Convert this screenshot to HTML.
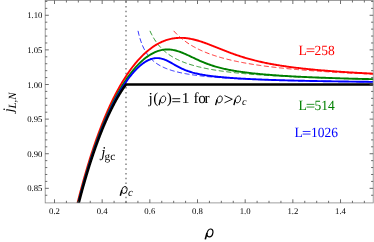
<!DOCTYPE html>
<html><head><meta charset="utf-8"><style>
html,body{margin:0;padding:0;background:#fff;}
svg{display:block;will-change:transform;font-family:"Liberation Serif",serif;text-rendering:geometricPrecision;}
</style></head><body>
<svg width="374" height="242" viewBox="0 0 374 242">
<rect width="374" height="242" fill="#fff"/>
<defs><clipPath id="c"><rect x="45.2" y="0.4" width="328.0" height="202.5"/></clipPath></defs>
<g clip-path="url(#c)" fill="none" stroke-linecap="butt" stroke-linejoin="round">
<path d="M126.0,202.9V0.4" stroke="#707070" stroke-width="1.3" stroke-dasharray="1.5,3.27" stroke-dashoffset="0.2"/>
<path d="M173.69,30.85L174.64,31.91L175.59,32.92L176.55,33.89L177.50,34.83L178.45,35.73L179.41,36.60L180.36,37.44L181.31,38.25L182.27,39.04L183.22,39.79L184.17,40.53L185.13,41.24L186.08,41.92L187.03,42.59L187.99,43.23L188.94,43.86L189.89,44.46L190.85,45.05L191.80,45.62L192.75,46.18L193.71,46.72L194.66,47.24L195.62,47.75L196.57,48.25L197.52,48.73L198.48,49.20L199.43,49.66L200.38,50.11L201.34,50.54L202.29,50.97L203.24,51.38L204.20,51.79L205.15,52.18L206.10,52.56L207.06,52.94L208.01,53.31L208.96,53.67L209.92,54.02L210.87,54.36L211.82,54.69L212.78,55.02L213.73,55.34L214.68,55.65L215.64,55.96L216.59,56.26L217.54,56.56L218.50,56.84L219.45,57.13L220.40,57.40L221.36,57.67L222.31,57.94L223.26,58.20L224.22,58.46L225.17,58.71L226.12,58.95L227.08,59.19L228.03,59.43L228.98,59.66L229.94,59.89L230.89,60.11L231.84,60.33L232.80,60.55L233.75,60.76L234.70,60.97L235.66,61.17L236.61,61.37L237.56,61.57L238.52,61.77L239.47,61.96L240.42,62.14L241.38,62.33L242.33,62.51L243.29,62.69L244.24,62.87L245.19,63.04L246.15,63.21L247.10,63.38L248.05,63.54L249.01,63.70L249.96,63.86L250.91,64.02L251.87,64.18L252.82,64.33L253.77,64.48L254.73,64.63L255.68,64.77L256.63,64.92L257.59,65.06L258.54,65.20L259.49,65.34L260.45,65.47L261.40,65.61L262.35,65.74L263.31,65.87L264.26,66.00L265.21,66.13L266.17,66.25L267.12,66.37L268.07,66.50L269.03,66.62L269.98,66.73L270.93,66.85L271.89,66.97L272.84,67.08L273.79,67.19L274.75,67.30L275.70,67.41L276.65,67.52L277.61,67.63L278.56,67.73L279.51,67.84L280.47,67.94L281.42,68.04L282.37,68.14L283.33,68.24L284.28,68.34L285.23,68.44L286.19,68.53L287.14,68.63L288.09,68.72L289.05,68.81L290.00,68.90L290.96,68.99L291.91,69.08L292.86,69.17L293.82,69.26L294.77,69.34L295.72,69.43L296.68,69.51L297.63,69.60L298.58,69.68L299.54,69.76L300.49,69.84L301.44,69.92L302.40,70.00L303.35,70.08L304.30,70.15L305.26,70.23L306.21,70.31L307.16,70.38L308.12,70.45L309.07,70.53L310.02,70.60L310.98,70.67L311.93,70.74L312.88,70.81L313.84,70.88L314.79,70.95L315.74,71.02L316.70,71.09L317.65,71.15L318.60,71.22L319.56,71.28L320.51,71.35L321.46,71.41L322.42,71.48L323.37,71.54L324.32,71.60L325.28,71.66L326.23,71.72L327.18,71.79L328.14,71.85L329.09,71.90L330.04,71.96L331.00,72.02L331.95,72.08L332.90,72.14L333.86,72.19L334.81,72.25L335.76,72.31L336.72,72.36L337.67,72.42L338.63,72.47L339.58,72.52L340.53,72.58L341.49,72.63L342.44,72.68L343.39,72.73L344.35,72.78L345.30,72.84L346.25,72.89L347.21,72.94L348.16,72.99L349.11,73.04L350.07,73.08L351.02,73.13L351.97,73.18L352.93,73.23L353.88,73.27L354.83,73.32L355.79,73.37L356.74,73.41L357.69,73.46L358.65,73.50L359.60,73.55L360.55,73.59L361.51,73.64L362.46,73.68L363.41,73.73L364.37,73.77L365.32,73.81L366.27,73.85L367.23,73.90L368.18,73.94L369.13,73.98L370.09,74.02L371.04,74.06L371.99,74.10L372.95,74.14L373.90,74.18L374.85,74.22L375.81,74.26L376.76,74.30L377.71,74.34" stroke="#ff0000" stroke-width="0.8" stroke-dasharray="5,2.6"/>
<path d="M149.94,30.85L150.89,32.91L151.85,34.81L152.80,36.58L153.75,38.23L154.71,39.76L155.66,41.20L156.61,42.55L157.57,43.82L158.52,45.01L159.47,46.14L160.43,47.20L161.38,48.20L162.33,49.16L163.29,50.06L164.24,50.92L165.19,51.74L166.15,52.51L167.10,53.26L168.05,53.97L169.01,54.64L169.96,55.29L170.91,55.91L171.87,56.50L172.82,57.07L173.77,57.62L174.73,58.15L175.68,58.65L176.63,59.14L177.59,59.61L178.54,60.06L179.49,60.50L180.45,60.92L181.40,61.32L182.35,61.71L183.31,62.09L184.26,62.46L185.21,62.82L186.17,63.16L187.12,63.49L188.07,63.81L189.03,64.13L189.98,64.43L190.93,64.73L191.89,65.01L192.84,65.29L193.80,65.56L194.75,65.82L195.70,66.08L196.66,66.33L197.61,66.57L198.56,66.80L199.52,67.03L200.47,67.26L201.42,67.48L202.38,67.69L203.33,67.90L204.28,68.10L205.24,68.30L206.19,68.49L207.14,68.68L208.10,68.86L209.05,69.04L210.00,69.21L210.96,69.39L211.91,69.55L212.86,69.72L213.82,69.88L214.77,70.04L215.72,70.19L216.68,70.34L217.63,70.49L218.58,70.63L219.54,70.77L220.49,70.91L221.44,71.05L222.40,71.18L223.35,71.31L224.30,71.44L225.26,71.56L226.21,71.69L227.16,71.81L228.12,71.93L229.07,72.04L230.02,72.16L230.98,72.27L231.93,72.38L232.88,72.49L233.84,72.59L234.79,72.70L235.74,72.80L236.70,72.90L237.65,73.00L238.60,73.10L239.56,73.19L240.51,73.29L241.47,73.38L242.42,73.47L243.37,73.56L244.33,73.65L245.28,73.74L246.23,73.82L247.19,73.90L248.14,73.99L249.09,74.07L250.05,74.15L251.00,74.23L251.95,74.31L252.91,74.38L253.86,74.46L254.81,74.53L255.77,74.61L256.72,74.68L257.67,74.75L258.63,74.82L259.58,74.89L260.53,74.96L261.49,75.02L262.44,75.09L263.39,75.15L264.35,75.22L265.30,75.28L266.25,75.35L267.21,75.41L268.16,75.47L269.11,75.53L270.07,75.59L271.02,75.65L271.97,75.70L272.93,75.76L273.88,75.82L274.83,75.87L275.79,75.93L276.74,75.98L277.69,76.04L278.65,76.09L279.60,76.14L280.55,76.19L281.51,76.24L282.46,76.29L283.41,76.34L284.37,76.39L285.32,76.44L286.27,76.49L287.23,76.54L288.18,76.58L289.14,76.63L290.09,76.68L291.04,76.72L292.00,76.76L292.95,76.81L293.90,76.85L294.86,76.90L295.81,76.94L296.76,76.98L297.72,77.02L298.67,77.06L299.62,77.10L300.58,77.15L301.53,77.19L302.48,77.22L303.44,77.26L304.39,77.30L305.34,77.34L306.30,77.38L307.25,77.42L308.20,77.45L309.16,77.49L310.11,77.53L311.06,77.56L312.02,77.60L312.97,77.63L313.92,77.67L314.88,77.70L315.83,77.74L316.78,77.77L317.74,77.80L318.69,77.84L319.64,77.87L320.60,77.90L321.55,77.93L322.50,77.97L323.46,78.00L324.41,78.03L325.36,78.06L326.32,78.09L327.27,78.12L328.22,78.15L329.18,78.18L330.13,78.21L331.08,78.24L332.04,78.27L332.99,78.30L333.94,78.33L334.90,78.35L335.85,78.38L336.81,78.41L337.76,78.44L338.71,78.46L339.67,78.49L340.62,78.52L341.57,78.54L342.53,78.57L343.48,78.60L344.43,78.62L345.39,78.65L346.34,78.67L347.29,78.70L348.25,78.72L349.20,78.75L350.15,78.77L351.11,78.80L352.06,78.82L353.01,78.84L353.97,78.87L354.92,78.89L355.87,78.91L356.83,78.94L357.78,78.96L358.73,78.98L359.69,79.01L360.64,79.03L361.59,79.05L362.55,79.07L363.50,79.09L364.45,79.12L365.41,79.14L366.36,79.16L367.31,79.18L368.27,79.20L369.22,79.22L370.17,79.24L371.13,79.26L372.08,79.28L373.03,79.30L373.99,79.32L374.94,79.34L375.89,79.36L376.85,79.38L377.80,79.40" stroke="#008000" stroke-width="0.8" stroke-dasharray="5,2.6"/>
<path d="M138.00,30.85L138.95,34.81L139.90,38.22L140.86,41.19L141.81,43.80L142.76,46.12L143.72,48.18L144.67,50.04L145.62,51.71L146.58,53.23L147.53,54.62L148.48,55.88L149.44,57.05L150.39,58.12L151.34,59.11L152.30,60.03L153.25,60.89L154.20,61.69L155.16,62.44L156.11,63.13L157.06,63.79L158.02,64.41L158.97,64.99L159.92,65.54L160.88,66.05L161.83,66.55L162.78,67.01L163.74,67.45L164.69,67.87L165.64,68.27L166.60,68.65L167.55,69.02L168.50,69.37L169.46,69.70L170.41,70.01L171.36,70.32L172.32,70.61L173.27,70.89L174.22,71.16L175.18,71.42L176.13,71.67L177.08,71.91L178.04,72.14L178.99,72.36L179.94,72.58L180.90,72.78L181.85,72.98L182.80,73.18L183.76,73.36L184.71,73.54L185.67,73.72L186.62,73.89L187.57,74.05L188.53,74.21L189.48,74.37L190.43,74.52L191.39,74.66L192.34,74.80L193.29,74.94L194.25,75.07L195.20,75.20L196.15,75.33L197.11,75.45L198.06,75.57L199.01,75.69L199.97,75.80L200.92,75.91L201.87,76.02L202.83,76.13L203.78,76.23L204.73,76.33L205.69,76.43L206.64,76.52L207.59,76.62L208.55,76.71L209.50,76.80L210.45,76.88L211.41,76.97L212.36,77.05L213.31,77.13L214.27,77.21L215.22,77.29L216.17,77.37L217.13,77.44L218.08,77.51L219.03,77.59L219.99,77.66L220.94,77.72L221.89,77.79L222.85,77.86L223.80,77.92L224.75,77.99L225.71,78.05L226.66,78.11L227.61,78.17L228.57,78.23L229.52,78.29L230.47,78.34L231.43,78.40L232.38,78.45L233.34,78.51L234.29,78.56L235.24,78.61L236.20,78.66L237.15,78.71L238.10,78.76L239.06,78.81L240.01,78.86L240.96,78.90L241.92,78.95L242.87,79.00L243.82,79.04L244.78,79.08L245.73,79.13L246.68,79.17L247.64,79.21L248.59,79.25L249.54,79.29L250.50,79.33L251.45,79.37L252.40,79.41L253.36,79.45L254.31,79.49L255.26,79.52L256.22,79.56L257.17,79.60L258.12,79.63L259.08,79.67L260.03,79.70L260.98,79.73L261.94,79.77L262.89,79.80L263.84,79.83L264.80,79.87L265.75,79.90L266.70,79.93L267.66,79.96L268.61,79.99L269.56,80.02L270.52,80.05L271.47,80.08L272.42,80.11L273.38,80.14L274.33,80.16L275.28,80.19L276.24,80.22L277.19,80.25L278.14,80.27L279.10,80.30L280.05,80.32L281.01,80.35L281.96,80.38L282.91,80.40L283.87,80.43L284.82,80.45L285.77,80.47L286.73,80.50L287.68,80.52L288.63,80.54L289.59,80.57L290.54,80.59L291.49,80.61L292.45,80.64L293.40,80.66L294.35,80.68L295.31,80.70L296.26,80.72L297.21,80.74L298.17,80.76L299.12,80.78L300.07,80.80L301.03,80.82L301.98,80.84L302.93,80.86L303.89,80.88L304.84,80.90L305.79,80.92L306.75,80.94L307.70,80.96L308.65,80.98L309.61,81.00L310.56,81.01L311.51,81.03L312.47,81.05L313.42,81.07L314.37,81.09L315.33,81.10L316.28,81.12L317.23,81.14L318.19,81.15L319.14,81.17L320.09,81.19L321.05,81.20L322.00,81.22L322.95,81.23L323.91,81.25L324.86,81.27L325.81,81.28L326.77,81.30L327.72,81.31L328.68,81.33L329.63,81.34L330.58,81.36L331.54,81.37L332.49,81.38L333.44,81.40L334.40,81.41L335.35,81.43L336.30,81.44L337.26,81.46L338.21,81.47L339.16,81.48L340.12,81.50L341.07,81.51L342.02,81.52L342.98,81.54L343.93,81.55L344.88,81.56L345.84,81.57L346.79,81.59L347.74,81.60L348.70,81.61L349.65,81.62L350.60,81.64L351.56,81.65L352.51,81.66L353.46,81.67L354.42,81.68L355.37,81.70L356.32,81.71L357.28,81.72L358.23,81.73L359.18,81.74L360.14,81.75L361.09,81.76L362.04,81.77L363.00,81.79L363.95,81.80L364.90,81.81L365.86,81.82L366.81,81.83L367.76,81.84L368.72,81.85L369.67,81.86L370.62,81.87L371.58,81.88L372.53,81.89L373.48,81.90L374.44,81.91L375.39,81.92L376.35,81.93L377.30,81.94L378.25,81.95" stroke="#0000ff" stroke-width="0.8" stroke-dasharray="5,2.6"/>
<path d="M73.57,219.29L74.52,215.24L75.47,211.26L76.43,207.35L77.38,203.50L78.34,199.72L79.29,196.00L80.24,192.35L81.20,188.76L82.15,185.23L83.10,181.77L84.06,178.36L85.01,175.01L85.96,171.72L86.92,168.49L87.87,165.31L88.82,162.19L89.78,159.12L90.73,156.11L91.68,153.15L92.64,150.24L93.59,147.38L94.54,144.58L95.50,141.82L96.45,139.11L97.40,136.45L98.36,133.84L99.31,131.28L100.26,128.76L101.22,126.29L102.17,123.86L103.12,121.48L104.08,119.14L105.03,116.84L105.98,114.59L106.94,112.38L107.89,110.21L108.84,108.08L109.80,105.99L110.75,103.94L111.70,101.94L112.66,99.97L113.61,98.03L114.56,96.14L115.52,94.28L116.47,92.46L117.42,90.68L118.38,88.94L119.33,87.22L120.28,85.55L121.24,83.91L122.19,82.30L123.14,80.73L124.10,79.19L125.05,77.68L126.01,76.21L126.96,74.77L127.91,73.36L128.87,71.98L129.82,70.64L130.77,69.32L131.73,68.04L132.68,66.78L133.63,65.56L134.59,64.37L135.54,63.20L136.49,62.07L137.45,60.97L138.40,59.89L139.35,58.84L140.31,57.82L141.26,56.83L142.21,55.87L143.17,54.93L144.12,54.02L145.07,53.14L146.03,52.28L146.98,51.46L147.93,50.65L148.89,49.88L149.84,49.13L150.79,48.40L151.75,47.71L152.70,47.03L153.65,46.39L154.61,45.77L155.56,45.17L156.51,44.60L157.47,44.05L158.42,43.53L159.37,43.03L160.33,42.55L161.28,42.10L162.23,41.67L163.19,41.27L164.14,40.89L165.09,40.54L166.05,40.20L167.00,39.89L167.95,39.60L168.91,39.34L169.86,39.09L170.81,38.87L171.77,38.67L172.72,38.50L173.68,38.34L174.63,38.21L175.58,38.09L176.54,38.00L177.49,37.93L178.44,37.87L179.40,37.84L180.35,37.83L181.30,37.83L182.26,37.86L183.21,37.90L184.16,37.96L185.12,38.04L186.07,38.14L187.02,38.25L187.98,38.38L188.93,38.53L189.88,38.69L190.84,38.87L191.79,39.06L192.74,39.26L193.70,39.48L194.65,39.72L195.60,39.96L196.56,40.22L197.51,40.49L198.46,40.77L199.42,41.06L200.37,41.36L201.32,41.67L202.28,41.99L203.23,42.31L204.18,42.65L205.14,42.99L206.09,43.33L207.04,43.69L208.00,44.05L208.95,44.41L209.90,44.78L210.86,45.15L211.81,45.52L212.76,45.90L213.72,46.28L214.67,46.66L215.62,47.04L216.58,47.43L217.53,47.81L218.48,48.20L219.44,48.58L220.39,48.96L221.35,49.34L222.30,49.72L223.25,50.10L224.21,50.48L225.16,50.85L226.11,51.22L227.07,51.59L228.02,51.95L228.97,52.31L229.93,52.67L230.88,53.02L231.83,53.37L232.79,53.72L233.74,54.06L234.69,54.40L235.65,54.73L236.60,55.06L237.55,55.38L238.51,55.70L239.46,56.02L240.41,56.33L241.37,56.63L242.32,56.94L243.27,57.23L244.23,57.52L245.18,57.81L246.13,58.09L247.09,58.37L248.04,58.64L248.99,58.91L249.95,59.17L250.90,59.43L251.85,59.69L252.81,59.94L253.76,60.18L254.71,60.43L255.67,60.66L256.62,60.90L257.57,61.13L258.53,61.35L259.48,61.57L260.43,61.79L261.39,62.00L262.34,62.21L263.29,62.42L264.25,62.62L265.20,62.82L266.15,63.02L267.11,63.21L268.06,63.40L269.02,63.58L269.97,63.77L270.92,63.95L271.88,64.12L272.83,64.29L273.78,64.46L274.74,64.63L275.69,64.80L276.64,64.96L277.60,65.12L278.55,65.27L279.50,65.43L280.46,65.58L281.41,65.73L282.36,65.87L283.32,66.02L284.27,66.16L285.22,66.30L286.18,66.44L287.13,66.57L288.08,66.71L289.04,66.84L289.99,66.97L290.94,67.09L291.90,67.22L292.85,67.34L293.80,67.46L294.76,67.58L295.71,67.70L296.66,67.82L297.62,67.93L298.57,68.04L299.52,68.16L300.48,68.26L301.43,68.37L302.38,68.48L303.34,68.58L304.29,68.69L305.24,68.79L306.20,68.89L307.15,68.99L308.10,69.09L309.06,69.18L310.01,69.28L310.96,69.37L311.92,69.47L312.87,69.56L313.82,69.65L314.78,69.74L315.73,69.83L316.69,69.91L317.64,70.00L318.59,70.09L319.55,70.17L320.50,70.25L321.45,70.33L322.41,70.41L323.36,70.49L324.31,70.57L325.27,70.65L326.22,70.73L327.17,70.80L328.13,70.88L329.08,70.95L330.03,71.03L330.99,71.10L331.94,71.17L332.89,71.24L333.85,71.31L334.80,71.38L335.75,71.45L336.71,71.52L337.66,71.59L338.61,71.65L339.57,71.72L340.52,71.78L341.47,71.85L342.43,71.91L343.38,71.97L344.33,72.04L345.29,72.10L346.24,72.16L347.19,72.22L348.15,72.28L349.10,72.34L350.05,72.40L351.01,72.45L351.96,72.51L352.91,72.57L353.87,72.62L354.82,72.68L355.77,72.74L356.73,72.79L357.68,72.84L358.63,72.90L359.59,72.95L360.54,73.00L361.49,73.05L362.45,73.11L363.40,73.16L364.36,73.21L365.31,73.26L366.26,73.31L367.22,73.36L368.17,73.41L369.12,73.45L370.08,73.50L371.03,73.55L371.98,73.60L372.94,73.64L373.89,73.69L374.84,73.73L375.80,73.78" stroke="#ff0000" stroke-width="1.9"/>
<path d="M73.57,221.58L74.52,217.55L75.47,213.59L76.43,209.69L77.38,205.86L78.34,202.10L79.29,198.41L80.24,194.77L81.20,191.20L82.15,187.69L83.10,184.24L84.06,180.85L85.01,177.52L85.96,174.25L86.92,171.04L87.87,167.88L88.82,164.78L89.78,161.73L90.73,158.73L91.68,155.79L92.64,152.90L93.59,150.07L94.54,147.28L95.50,144.55L96.45,141.86L97.40,139.22L98.36,136.63L99.31,134.09L100.26,131.59L101.22,129.14L102.17,126.74L103.12,124.38L104.08,122.06L105.03,119.79L105.98,117.56L106.94,115.38L107.89,113.24L108.84,111.13L109.80,109.07L110.75,107.05L111.70,105.07L112.66,103.13L113.61,101.23L114.56,99.37L115.52,97.55L116.47,95.76L117.42,94.01L118.38,92.30L119.33,90.63L120.28,88.99L121.24,87.39L122.19,85.82L123.14,84.29L124.10,82.79L125.05,81.33L126.01,79.91L126.96,78.51L127.91,77.16L128.87,75.83L129.82,74.54L130.77,73.28L131.73,72.06L132.68,70.87L133.63,69.71L134.59,68.58L135.54,67.49L136.49,66.43L137.45,65.40L138.40,64.41L139.35,63.44L140.31,62.51L141.26,61.61L142.21,60.74L143.17,59.90L144.12,59.10L145.07,58.33L146.03,57.59L146.98,56.88L147.93,56.20L148.89,55.56L149.84,54.94L150.79,54.36L151.75,53.81L152.70,53.30L153.65,52.81L154.61,52.36L155.56,51.94L156.51,51.56L157.47,51.20L158.42,50.88L159.37,50.60L160.33,50.34L161.28,50.12L162.23,49.93L163.19,49.77L164.14,49.64L165.09,49.55L166.05,49.49L167.00,49.46L167.95,49.46L168.91,49.49L169.86,49.55L170.81,49.65L171.77,49.77L172.72,49.92L173.68,50.09L174.63,50.30L175.58,50.53L176.54,50.78L177.49,51.06L178.44,51.35L179.40,51.67L180.35,52.01L181.30,52.37L182.26,52.74L183.21,53.13L184.16,53.53L185.12,53.94L186.07,54.37L187.02,54.80L187.98,55.24L188.93,55.69L189.88,56.14L190.84,56.59L191.79,57.04L192.74,57.50L193.70,57.95L194.65,58.40L195.60,58.85L196.56,59.29L197.51,59.73L198.46,60.17L199.42,60.60L200.37,61.02L201.32,61.43L202.28,61.84L203.23,62.23L204.18,62.62L205.14,63.00L206.09,63.38L207.04,63.74L208.00,64.09L208.95,64.44L209.90,64.77L210.86,65.10L211.81,65.42L212.76,65.72L213.72,66.02L214.67,66.32L215.62,66.60L216.58,66.88L217.53,67.14L218.48,67.40L219.44,67.66L220.39,67.90L221.35,68.14L222.30,68.37L223.25,68.60L224.21,68.82L225.16,69.03L226.11,69.24L227.07,69.44L228.02,69.63L228.97,69.82L229.93,70.01L230.88,70.19L231.83,70.36L232.79,70.54L233.74,70.70L234.69,70.86L235.65,71.02L236.60,71.18L237.55,71.33L238.51,71.47L239.46,71.62L240.41,71.76L241.37,71.89L242.32,72.03L243.27,72.16L244.23,72.29L245.18,72.41L246.13,72.53L247.09,72.65L248.04,72.77L248.99,72.88L249.95,72.99L250.90,73.10L251.85,73.21L252.81,73.32L253.76,73.42L254.71,73.52L255.67,73.62L256.62,73.71L257.57,73.81L258.53,73.90L259.48,73.99L260.43,74.08L261.39,74.17L262.34,74.26L263.29,74.34L264.25,74.43L265.20,74.51L266.15,74.59L267.11,74.67L268.06,74.75L269.02,74.82L269.97,74.90L270.92,74.97L271.88,75.04L272.83,75.11L273.78,75.18L274.74,75.25L275.69,75.32L276.64,75.39L277.60,75.46L278.55,75.52L279.50,75.58L280.46,75.65L281.41,75.71L282.36,75.77L283.32,75.83L284.27,75.89L285.22,75.95L286.18,76.01L287.13,76.06L288.08,76.12L289.04,76.17L289.99,76.23L290.94,76.28L291.90,76.33L292.85,76.39L293.80,76.44L294.76,76.49L295.71,76.54L296.66,76.59L297.62,76.64L298.57,76.69L299.52,76.73L300.48,76.78L301.43,76.83L302.38,76.87L303.34,76.92L304.29,76.96L305.24,77.01L306.20,77.05L307.15,77.09L308.10,77.14L309.06,77.18L310.01,77.22L310.96,77.26L311.92,77.30L312.87,77.34L313.82,77.38L314.78,77.42L315.73,77.46L316.69,77.50L317.64,77.54L318.59,77.57L319.55,77.61L320.50,77.65L321.45,77.68L322.41,77.72L323.36,77.75L324.31,77.79L325.27,77.82L326.22,77.86L327.17,77.89L328.13,77.92L329.08,77.96L330.03,77.99L330.99,78.02L331.94,78.06L332.89,78.09L333.85,78.12L334.80,78.15L335.75,78.18L336.71,78.21L337.66,78.24L338.61,78.27L339.57,78.30L340.52,78.33L341.47,78.36L342.43,78.39L343.38,78.42L344.33,78.45L345.29,78.47L346.24,78.50L347.19,78.53L348.15,78.56L349.10,78.58L350.05,78.61L351.01,78.64L351.96,78.66L352.91,78.69L353.87,78.71L354.82,78.74L355.77,78.76L356.73,78.79L357.68,78.81L358.63,78.84L359.59,78.86L360.54,78.89L361.49,78.91L362.45,78.94L363.40,78.96L364.36,78.98L365.31,79.01L366.26,79.03L367.22,79.05L368.17,79.07L369.12,79.10L370.08,79.12L371.03,79.14L371.98,79.16L372.94,79.18L373.89,79.20L374.84,79.23L375.80,79.25" stroke="#008000" stroke-width="1.9"/>
<path d="M73.57,222.74L74.52,218.72L75.47,214.76L76.43,210.88L77.38,207.06L78.34,203.31L79.29,199.62L80.24,196.00L81.20,192.43L82.15,188.93L83.10,185.50L84.06,182.12L85.01,178.80L85.96,175.54L86.92,172.33L87.87,169.18L88.82,166.09L89.78,163.05L90.73,160.07L91.68,157.14L92.64,154.26L93.59,151.44L94.54,148.66L95.50,145.94L96.45,143.26L97.40,140.64L98.36,138.06L99.31,135.53L100.26,133.04L101.22,130.61L102.17,128.22L103.12,125.87L104.08,123.57L105.03,121.31L105.98,119.10L106.94,116.93L107.89,114.81L108.84,112.72L109.80,110.68L110.75,108.68L111.70,106.71L112.66,104.79L113.61,102.91L114.56,101.07L115.52,99.27L116.47,97.51L117.42,95.78L118.38,94.10L119.33,92.45L120.28,90.84L121.24,89.27L122.19,87.73L123.14,86.23L124.10,84.77L125.05,83.35L126.01,81.96L126.96,80.61L127.91,79.29L128.87,78.01L129.82,76.77L130.77,75.57L131.73,74.40L132.68,73.26L133.63,72.17L134.59,71.11L135.54,70.09L136.49,69.10L137.45,68.16L138.40,67.25L139.35,66.38L140.31,65.55L141.26,64.76L142.21,64.00L143.17,63.29L144.12,62.63L145.07,62.00L146.03,61.42L146.98,60.88L147.93,60.38L148.89,59.93L149.84,59.53L150.79,59.18L151.75,58.87L152.70,58.61L153.65,58.41L154.61,58.25L155.56,58.14L156.51,58.09L157.47,58.09L158.42,58.14L159.37,58.24L160.33,58.39L161.28,58.58L162.23,58.83L163.19,59.12L164.14,59.45L165.09,59.82L166.05,60.23L167.00,60.67L167.95,61.13L168.91,61.62L169.86,62.13L170.81,62.66L171.77,63.19L172.72,63.73L173.68,64.28L174.63,64.82L175.58,65.36L176.54,65.89L177.49,66.41L178.44,66.92L179.40,67.41L180.35,67.89L181.30,68.35L182.26,68.79L183.21,69.22L184.16,69.63L185.12,70.02L186.07,70.40L187.02,70.75L187.98,71.09L188.93,71.42L189.88,71.73L190.84,72.02L191.79,72.31L192.74,72.58L193.70,72.83L194.65,73.08L195.60,73.31L196.56,73.53L197.51,73.75L198.46,73.95L199.42,74.15L200.37,74.34L201.32,74.52L202.28,74.69L203.23,74.86L204.18,75.02L205.14,75.17L206.09,75.32L207.04,75.47L208.00,75.60L208.95,75.74L209.90,75.87L210.86,75.99L211.81,76.11L212.76,76.23L213.72,76.34L214.67,76.46L215.62,76.56L216.58,76.67L217.53,76.77L218.48,76.86L219.44,76.96L220.39,77.05L221.35,77.14L222.30,77.23L223.25,77.32L224.21,77.40L225.16,77.48L226.11,77.56L227.07,77.64L228.02,77.71L228.97,77.78L229.93,77.86L230.88,77.93L231.83,78.00L232.79,78.06L233.74,78.13L234.69,78.19L235.65,78.26L236.60,78.32L237.55,78.38L238.51,78.44L239.46,78.49L240.41,78.55L241.37,78.61L242.32,78.66L243.27,78.71L244.23,78.77L245.18,78.82L246.13,78.87L247.09,78.92L248.04,78.96L248.99,79.01L249.95,79.06L250.90,79.10L251.85,79.15L252.81,79.19L253.76,79.24L254.71,79.28L255.67,79.32L256.62,79.36L257.57,79.40L258.53,79.44L259.48,79.48L260.43,79.52L261.39,79.56L262.34,79.60L263.29,79.64L264.25,79.67L265.20,79.71L266.15,79.74L267.11,79.78L268.06,79.81L269.02,79.84L269.97,79.88L270.92,79.91L271.88,79.94L272.83,79.97L273.78,80.01L274.74,80.04L275.69,80.07L276.64,80.10L277.60,80.13L278.55,80.16L279.50,80.18L280.46,80.21L281.41,80.24L282.36,80.27L283.32,80.30L284.27,80.32L285.22,80.35L286.18,80.37L287.13,80.40L288.08,80.43L289.04,80.45L289.99,80.48L290.94,80.50L291.90,80.52L292.85,80.55L293.80,80.57L294.76,80.60L295.71,80.62L296.66,80.64L297.62,80.66L298.57,80.69L299.52,80.71L300.48,80.73L301.43,80.75L302.38,80.77L303.34,80.79L304.29,80.81L305.24,80.84L306.20,80.86L307.15,80.88L308.10,80.90L309.06,80.91L310.01,80.93L310.96,80.95L311.92,80.97L312.87,80.99L313.82,81.01L314.78,81.03L315.73,81.05L316.69,81.06L317.64,81.08L318.59,81.10L319.55,81.12L320.50,81.13L321.45,81.15L322.41,81.17L323.36,81.18L324.31,81.20L325.27,81.22L326.22,81.23L327.17,81.25L328.13,81.27L329.08,81.28L330.03,81.30L330.99,81.31L331.94,81.33L332.89,81.34L333.85,81.36L334.80,81.37L335.75,81.39L336.71,81.40L337.66,81.42L338.61,81.43L339.57,81.44L340.52,81.46L341.47,81.47L342.43,81.49L343.38,81.50L344.33,81.51L345.29,81.53L346.24,81.54L347.19,81.55L348.15,81.57L349.10,81.58L350.05,81.59L351.01,81.60L351.96,81.62L352.91,81.63L353.87,81.64L354.82,81.65L355.77,81.67L356.73,81.68L357.68,81.69L358.63,81.70L359.59,81.71L360.54,81.72L361.49,81.74L362.45,81.75L363.40,81.76L364.36,81.77L365.31,81.78L366.26,81.79L367.22,81.80L368.17,81.81L369.12,81.83L370.08,81.84L371.03,81.85L371.98,81.86L372.94,81.87L373.89,81.88L374.84,81.89L375.80,81.90" stroke="#0000ff" stroke-width="1.9"/>
<path d="M66.50,255.90L66.64,255.21L66.79,254.51L66.93,253.82L67.08,253.13L67.22,252.43L67.37,251.74L67.52,251.04L67.66,250.35L67.81,249.66L67.96,248.96L68.11,248.27L68.25,247.57L68.40,246.88L68.55,246.19L68.70,245.49L68.85,244.80L69.00,244.11L69.15,243.41L69.30,242.72L69.46,242.02L69.61,241.33L69.76,240.64L69.91,239.94L70.07,239.25L70.22,238.55L70.37,237.86L70.53,237.17L70.68,236.47L70.84,235.78L70.99,235.08L71.15,234.39L71.31,233.70L71.46,233.00L71.62,232.31L71.78,231.61L71.94,230.92L72.10,230.23L72.26,229.53L72.42,228.84L72.58,228.14L72.74,227.45L72.90,226.76L73.06,226.06L73.22,225.37L73.39,224.67L73.55,223.98L73.71,223.29L73.88,222.59L74.04,221.90L74.21,221.21L74.37,220.51L74.54,219.82L74.71,219.12L74.87,218.43L75.04,217.74L75.21,217.04L75.38,216.35L75.55,215.65L75.72,214.96L75.89,214.27L76.06,213.57L76.23,212.88L76.40,212.18L76.57,211.49L76.75,210.80L76.92,210.10L77.09,209.41L77.27,208.71L77.44,208.02L77.62,207.33L77.80,206.63L77.97,205.94L78.15,205.24L78.33,204.55L78.51,203.86L78.69,203.16L78.87,202.47L79.05,201.77L79.23,201.08L79.41,200.39L79.59,199.69L79.77,199.00L79.96,198.31L80.14,197.61L80.33,196.92L80.51,196.22L80.70,195.53L80.88,194.84L81.07,194.14L81.26,193.45L81.45,192.75L81.64,192.06L81.83,191.37L82.02,190.67L82.21,189.98L82.40,189.28L82.59,188.59L82.78,187.90L82.98,187.20L83.17,186.51L83.37,185.81L83.56,185.12L83.76,184.43L83.96,183.73L84.16,183.04L84.36,182.34L84.56,181.65L84.76,180.96L84.96,180.26L85.16,179.57L85.36,178.88L85.56,178.18L85.77,177.49L85.97,176.79L86.18,176.10L86.39,175.41L86.59,174.71L86.80,174.02L87.01,173.32L87.22,172.63L87.43,171.94L87.64,171.24L87.86,170.55L88.07,169.85L88.28,169.16L88.50,168.47L88.71,167.77L88.93,167.08L89.15,166.38L89.37,165.69L89.58,165.00L89.81,164.30L90.03,163.61L90.25,162.91L90.47,162.22L90.70,161.53L90.92,160.83L91.15,160.14L91.37,159.44L91.60,158.75L91.83,158.06L92.06,157.36L92.29,156.67L92.52,155.98L92.76,155.28L92.99,154.59L93.23,153.89L93.46,153.20L93.70,152.51L93.94,151.81L94.18,151.12L94.42,150.42L94.66,149.73L94.90,149.04L95.15,148.34L95.39,147.65L95.64,146.95L95.88,146.26L96.13,145.57L96.38,144.87L96.63,144.18L96.89,143.48L97.14,142.79L97.40,142.10L97.65,141.40L97.91,140.71L98.17,140.01L98.43,139.32L98.69,138.63L98.95,137.93L99.22,137.24L99.48,136.55L99.75,135.85L100.02,135.16L100.29,134.46L100.56,133.77L100.83,133.08L101.11,132.38L101.38,131.69L101.66,130.99L101.94,130.30L102.22,129.61L102.50,128.91L102.79,128.22L103.07,127.52L103.36,126.83L103.65,126.14L103.94,125.44L104.23,124.75L104.53,124.05L104.83,123.36L105.12,122.67L105.42,121.97L105.73,121.28L106.03,120.58L106.34,119.89L106.64,119.20L106.95,118.50L107.27,117.81L107.58,117.11L107.90,116.42L108.21,115.73L108.54,115.03L108.86,114.34L109.18,113.65L109.51,112.95L109.84,112.26L110.17,111.56L110.51,110.87L110.85,110.18L111.19,109.48L111.53,108.79L111.88,108.09L112.22,107.40L112.58,106.71L112.93,106.01L113.29,105.32L113.65,104.62L114.01,103.93L114.38,103.24L114.75,102.54L115.12,101.85L115.50,101.15L115.88,100.46L116.26,99.77L116.65,99.07L117.04,98.38L117.43,97.68L117.83,96.99L118.24,96.30L118.65,95.60L119.06,94.91L119.48,94.22L119.90,93.52L120.33,92.83L120.76,92.13L121.20,91.44L121.65,90.75L122.10,90.05L122.56,89.36L123.02,88.66L123.49,87.97L123.97,87.28L124.46,86.58L124.97,85.89L125.48,85.19L126.00,84.50L375.2,84.5" stroke="#000" stroke-width="2.5" stroke-linejoin="miter"/>
</g>
<rect x="45.2" y="0.4" width="328.0" height="202.5" fill="none" stroke="#868686" stroke-width="0.8"/>
<path d="M54.50,202.9v-3.6M54.50,0.4v3.6M66.42,202.9v-2.1M66.42,0.4v2.1M78.34,202.9v-2.1M78.34,0.4v2.1M90.25,202.9v-2.1M90.25,0.4v2.1M102.17,202.9v-3.6M102.17,0.4v3.6M114.09,202.9v-2.1M114.09,0.4v2.1M126.00,202.9v-2.1M126.00,0.4v2.1M137.92,202.9v-2.1M137.92,0.4v2.1M149.84,202.9v-3.6M149.84,0.4v3.6M161.76,202.9v-2.1M161.76,0.4v2.1M173.68,202.9v-2.1M173.68,0.4v2.1M185.59,202.9v-2.1M185.59,0.4v2.1M197.51,202.9v-3.6M197.51,0.4v3.6M209.43,202.9v-2.1M209.43,0.4v2.1M221.34,202.9v-2.1M221.34,0.4v2.1M233.26,202.9v-2.1M233.26,0.4v2.1M245.18,202.9v-3.6M245.18,0.4v3.6M257.10,202.9v-2.1M257.10,0.4v2.1M269.01,202.9v-2.1M269.01,0.4v2.1M280.93,202.9v-2.1M280.93,0.4v2.1M292.85,202.9v-3.6M292.85,0.4v3.6M304.77,202.9v-2.1M304.77,0.4v2.1M316.69,202.9v-2.1M316.69,0.4v2.1M328.60,202.9v-2.1M328.60,0.4v2.1M340.52,202.9v-3.6M340.52,0.4v3.6M352.44,202.9v-2.1M352.44,0.4v2.1M364.36,202.9v-2.1M364.36,0.4v2.1M45.2,195.25h2.1M373.2,195.25h-2.1M45.2,188.33h3.6M373.2,188.33h-3.6M45.2,181.41h2.1M373.2,181.41h-2.1M45.2,174.49h2.1M373.2,174.49h-2.1M45.2,167.56h2.1M373.2,167.56h-2.1M45.2,160.64h2.1M373.2,160.64h-2.1M45.2,153.72h3.6M373.2,153.72h-3.6M45.2,146.80h2.1M373.2,146.80h-2.1M45.2,139.88h2.1M373.2,139.88h-2.1M45.2,132.95h2.1M373.2,132.95h-2.1M45.2,126.03h2.1M373.2,126.03h-2.1M45.2,119.11h3.6M373.2,119.11h-3.6M45.2,112.19h2.1M373.2,112.19h-2.1M45.2,105.27h2.1M373.2,105.27h-2.1M45.2,98.34h2.1M373.2,98.34h-2.1M45.2,91.42h2.1M373.2,91.42h-2.1M45.2,84.50h3.6M373.2,84.50h-3.6M45.2,77.58h2.1M373.2,77.58h-2.1M45.2,70.66h2.1M373.2,70.66h-2.1M45.2,63.73h2.1M373.2,63.73h-2.1M45.2,56.81h2.1M373.2,56.81h-2.1M45.2,49.89h3.6M373.2,49.89h-3.6M45.2,42.97h2.1M373.2,42.97h-2.1M45.2,36.05h2.1M373.2,36.05h-2.1M45.2,29.12h2.1M373.2,29.12h-2.1M45.2,22.20h2.1M373.2,22.20h-2.1M45.2,15.28h3.6M373.2,15.28h-3.6M45.2,8.36h2.1M373.2,8.36h-2.1M45.2,1.44h2.1M373.2,1.44h-2.1" stroke="#484848" stroke-width="0.8" fill="none"/>
<g font-size="8.7" fill="#000"><text x="42.45" y="18.3" text-anchor="end">1.10</text><text x="42.45" y="52.9" text-anchor="end">1.05</text><text x="42.45" y="87.5" text-anchor="end">1.00</text><text x="42.45" y="122.2" text-anchor="end">0.95</text><text x="42.45" y="156.8" text-anchor="end">0.90</text><text x="42.45" y="191.4" text-anchor="end">0.85</text><text x="54.5" y="213.7" text-anchor="middle">0.2</text><text x="102.2" y="213.7" text-anchor="middle">0.4</text><text x="149.8" y="213.7" text-anchor="middle">0.6</text><text x="197.5" y="213.7" text-anchor="middle">0.8</text><text x="245.2" y="213.7" text-anchor="middle">1.0</text><text x="292.9" y="213.7" text-anchor="middle">1.2</text><text x="340.5" y="213.7" text-anchor="middle">1.4</text></g>
<g transform="translate(13.0,112.2) rotate(-90)" font-style="italic"><text x="0" y="0" font-size="14.5">j</text><text x="3.6" y="3.4" font-size="11.0">L,N</text></g>
<g transform="translate(204.5,236.9) scale(8.0)" fill="none" stroke="#000" stroke-linecap="round" stroke-linejoin="round"><path d="M0.27,-0.30C0.34,-0.625 0.455,-0.966 0.74,-0.985C0.966,-1.0 1.08,-0.795 1.057,-0.568C1.02,-0.227 0.795,0.0 0.568,-0.011C0.42,-0.023 0.33,-0.114 0.307,-0.25" stroke-width="0.15"/><path d="M0.10,0.31L0.31,-0.48" stroke-width="0.2" stroke-linecap="butt"/></g>
<g fill="#ff0000" font-size="13.7" transform="translate(0,54.8) scale(1,1.04) translate(0,-54.8)"><text x="298.5" y="54.8">L</text><path d="M306.6,49.1h7.8M306.6,51.7h7.8" stroke="#ff0000" stroke-width="0.8" fill="none"/><text x="314.6" y="54.8" font-size="13.5">258</text></g>
<g fill="#008000" font-size="13.7" transform="translate(0,110.3) scale(1,1.04) translate(0,-110.3)"><text x="298.5" y="110.3">L</text><path d="M306.6,104.6h7.8M306.6,107.2h7.8" stroke="#008000" stroke-width="0.8" fill="none"/><text x="314.6" y="110.3" font-size="13.5">514</text></g>
<g fill="#0000ff" font-size="13.7" transform="translate(0,137.35) scale(1,1.04) translate(0,-137.35)"><text x="294.6" y="137.35">L</text><path d="M302.7,131.7h7.8M302.7,134.2h7.8" stroke="#0000ff" stroke-width="0.8" fill="none"/><text x="311.1" y="137.35" font-size="13.5">1026</text></g>
<g font-size="15.3"><text x="148.44" y="102.9">j</text><text x="153.23" y="102.9">(</text><g transform="translate(158.3,102.9) scale(7.0)" fill="none" stroke="#000" stroke-linecap="round" stroke-linejoin="round"><path d="M0.27,-0.30C0.34,-0.625 0.455,-0.966 0.74,-0.985C0.966,-1.0 1.08,-0.795 1.057,-0.568C1.02,-0.227 0.795,0.0 0.568,-0.011C0.42,-0.023 0.33,-0.114 0.307,-0.25" stroke-width="0.125"/><path d="M0.10,0.31L0.31,-0.48" stroke-width="0.19" stroke-linecap="butt"/></g><text x="166.8" y="102.9">)</text><path d="M172.3,98.7H180.2M172.3,101.7H180.2" stroke="#000" stroke-width="0.9" fill="none"/><text x="181.65" y="102.9">1</text><text x="193.4" y="102.9">f</text><text x="198.2" y="102.9">o</text><text x="204.5" y="102.9">r</text><g transform="translate(214.9,102.9) scale(7.0)" fill="none" stroke="#000" stroke-linecap="round" stroke-linejoin="round"><path d="M0.27,-0.30C0.34,-0.625 0.455,-0.966 0.74,-0.985C0.966,-1.0 1.08,-0.795 1.057,-0.568C1.02,-0.227 0.795,0.0 0.568,-0.011C0.42,-0.023 0.33,-0.114 0.307,-0.25" stroke-width="0.125"/><path d="M0.10,0.31L0.31,-0.48" stroke-width="0.19" stroke-linecap="butt"/></g><path d="M224.5,95.6L232.3,99.2L224.5,102.8" stroke="#000" stroke-width="0.9" fill="none"/><g transform="translate(233.2,102.9) scale(7.0)" fill="none" stroke="#000" stroke-linecap="round" stroke-linejoin="round"><path d="M0.27,-0.30C0.34,-0.625 0.455,-0.966 0.74,-0.985C0.966,-1.0 1.08,-0.795 1.057,-0.568C1.02,-0.227 0.795,0.0 0.568,-0.011C0.42,-0.023 0.33,-0.114 0.307,-0.25" stroke-width="0.125"/><path d="M0.10,0.31L0.31,-0.48" stroke-width="0.19" stroke-linecap="butt"/></g><text x="242.0" y="104.9" font-size="10.3" font-style="italic">c</text></g>
<text x="101.3" y="157.2" font-size="15" font-style="italic">j</text><text x="104.6" y="160.2" font-size="11.3">gc</text>
<g transform="translate(119.6,193.5) scale(7.1)" fill="none" stroke="#000" stroke-linecap="round" stroke-linejoin="round"><path d="M0.27,-0.30C0.34,-0.625 0.455,-0.966 0.74,-0.985C0.966,-1.0 1.08,-0.795 1.057,-0.568C1.02,-0.227 0.795,0.0 0.568,-0.011C0.42,-0.023 0.33,-0.114 0.307,-0.25" stroke-width="0.14"/><path d="M0.10,0.31L0.31,-0.48" stroke-width="0.21" stroke-linecap="butt"/></g><text x="128.0" y="195.9" font-size="11" font-style="italic">c</text>
</svg>
</body></html>
